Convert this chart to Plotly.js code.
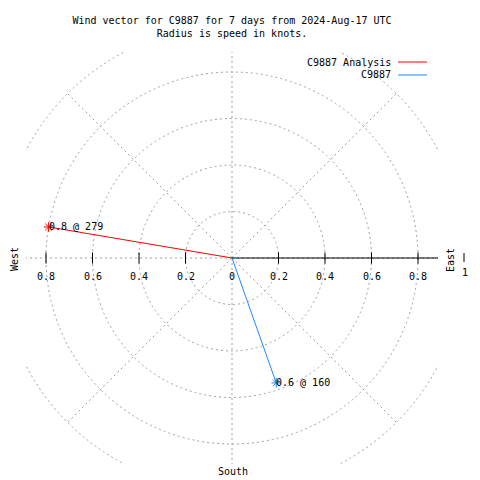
<!DOCTYPE html>
<html>
<head>
<meta charset="utf-8">
<script src="https://cdn.plot.ly/plotly-3.0.1.min.js"></script>
<style>html,body{margin:0;padding:0;background:#fff;}#chart{width:480px;height:480px;}</style>
</head>
<body>
<div id="chart"></div>
<script>
// ---- data ----
const seriesNames = ['C9887 Analysis', 'C9887'];
const speeds = [0.80, 0.57];          // knots (radius)
const directions = [279.6, 160.5];    // degrees, clockwise from north
const pointLabels = ['0.8 @ 279', '0.6 @ 160'];
const rings = [0.2, 0.4, 0.6, 0.8, 1.0];
const spokes = [0, 45, 90, 135, 180, 225, 270, 315];
const tickVals = [-0.8, -0.6, -0.4, -0.2, 0, 0.2, 0.4, 0.6, 0.8];
const tickText = ['0.8', '0.6', '0.4', '0.2', '0', '0.2', '0.4', '0.6', '0.8'];
const titleLines = ['Wind vector for C9887 for 7 days from 2024-Aug-17 UTC', 'Radius is speed in knots.'];

// ---- styles ----
const colors = ['#ff0000', '#1e88ff'];
const FONT = 'DejaVu Sans Mono, Liberation Mono, monospace';
const gridColor = '#a0a0a0';
const R = 0.886;
const M = {l: 26, r: 42, t: 52, b: 16};
const PW = 480 - M.l - M.r, PH = 480 - M.t - M.b;
const px = v => (v - M.l) / PW;          // page x -> paper
const py = v => (480 - M.b - v) / PH;    // page y -> paper

const rad = d => d * Math.PI / 180;
const traces = [];
const annotations = [];
const shapes = [];

// grid rings
rings.forEach(r => shapes.push({type: 'circle', xref: 'x', yref: 'y', x0: -r, x1: r, y0: -r, y1: r,
  line: {color: gridColor, width: 1, dash: '2px,3px'}, layer: 'below'}));
// spokes
spokes.forEach(a => shapes.push({type: 'line', xref: 'x', yref: 'y', x0: 0, y0: 0,
  x1: Math.sin(rad(a)), y1: Math.cos(rad(a)),
  line: {color: gridColor, width: 1, dash: '2px,3px'}, layer: 'below'}));
// polar axis line (east)
shapes.push({type: 'line', xref: 'x', yref: 'y', x0: 0, y0: 0, x1: R, y1: 0, line: {color: '#000', width: 1}, layer: 'below'});

// ticks
const tickMarks = tickVals.filter(v => v !== 0);
traces.push({type: 'scatter', mode: 'markers', x: tickMarks, y: tickMarks.map(() => 0),
  marker: {symbol: 'line-ns-open', size: 8, color: '#000', line: {color: '#000', width: 1}}, hoverinfo: 'skip', cliponaxis: false});
tickVals.forEach((v, i) => annotations.push({x: v, y: 0, xref: 'x', yref: 'y', text: tickText[i], showarrow: false,
  yshift: -18, xanchor: 'center', yanchor: 'middle', font: {family: FONT, size: 10, color: '#000'}}));

// data vectors
speeds.forEach((s, i) => {
  const x = s * Math.sin(rad(directions[i]));
  const y = s * Math.cos(rad(directions[i]));
  traces.push({type: 'scatter', mode: 'lines', x: [0, x], y: [0, y], line: {color: colors[i], width: 1}, hoverinfo: 'skip'});
  traces.push({type: 'scatter', mode: 'markers', x: [x], y: [y],
    marker: {symbol: 'asterisk-open', size: 8, color: colors[i], line: {color: colors[i], width: 1}}, hoverinfo: 'skip'});
  annotations.push({x: x, y: y, xref: 'x', yref: 'y', text: pointLabels[i], showarrow: false,
    xanchor: 'left', yanchor: 'middle', xshift: -2, font: {family: FONT, size: 10, color: '#000'}});
});

// legend (text left, line right)
seriesNames.forEach((n, i) => {
  const yy = 62 + 13 * i;
  annotations.push({xref: 'paper', yref: 'paper', x: px(393), y: py(yy), text: n, showarrow: false,
    xanchor: 'right', yanchor: 'middle', font: {family: FONT, size: 10, color: '#000'}});
  shapes.push({type: 'line', xref: 'paper', yref: 'paper', x0: px(398), x1: px(427), y0: py(yy), y1: py(yy),
    line: {color: colors[i], width: 1}});
});

// direction labels
const txt = (x, y, t, ang) => annotations.push({xref: 'paper', yref: 'paper', x: px(x), y: py(y), text: t, showarrow: false,
  textangle: ang || 0, xanchor: 'center', yanchor: 'middle', font: {family: FONT, size: 10, color: '#000'}});
txt(14, 259, 'West', -90);
txt(450, 260, 'East', -90);
txt(465, 272, '1', 0);
txt(233, 471, 'South', 0);
shapes.push({type: 'line', xref: 'paper', yref: 'paper', x0: px(464), x1: px(464), y0: py(253), y1: py(262), line: {color: '#000', width: 1}});

const layout = {
  width: 480, height: 480,
  margin: M,
  paper_bgcolor: '#fff', plot_bgcolor: '#fff',
  showlegend: false,
  title: {text: titleLines.join('<br>'), font: {family: FONT, size: 10, color: '#000'},
    x: 0.5, xref: 'paper', y: 1 - 24 / 480, yref: 'container', yanchor: 'top'},
  xaxis: {range: [-R, R], showgrid: false, zeroline: false, showticklabels: false, showline: false, ticks: '', fixedrange: true},
  yaxis: {range: [-R, R], showgrid: false, zeroline: false, showticklabels: false, showline: false, ticks: '', fixedrange: true},
  shapes: shapes,
  annotations: annotations
};
Plotly.newPlot('chart', traces, layout, {staticPlot: true, displayModeBar: false});
</script>
</body>
</html>
